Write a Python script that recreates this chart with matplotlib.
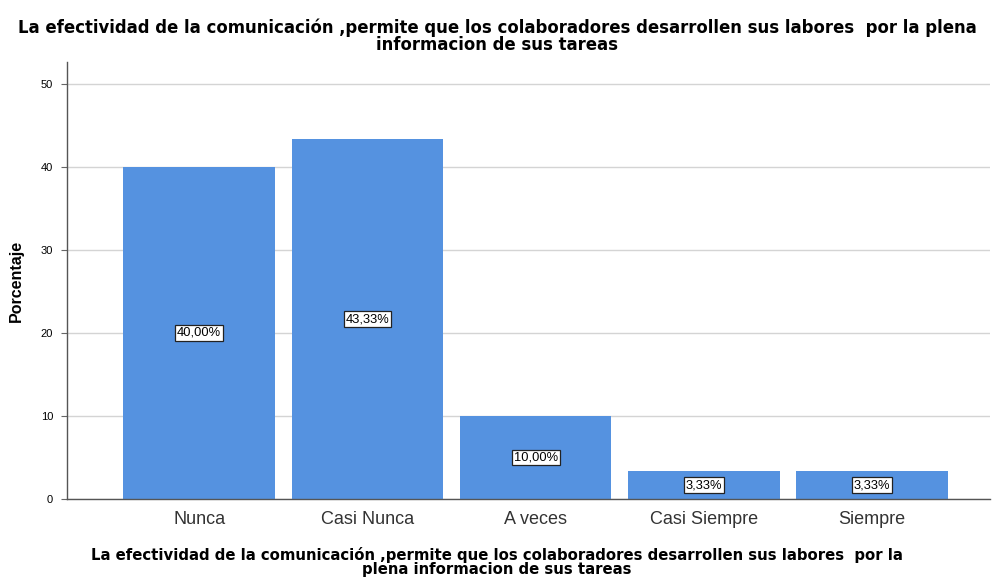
import matplotlib

matplotlib.use("Agg")
import matplotlib.pyplot as plt
import numpy as np

categories = ["Nunca", "Casi Nunca", "A veces", "Casi Siempre", "Siempre"]
percentages = [40.00, 43.33, 10.00, 3.33, 3.33]
y_ticks = [0, 10, 20, 30, 40, 50]

title_text = ("La efectividad de la comunicación ,permite que los colaboradores desarrollen sus labores  por la plena\n"
              "informacion de sus tareas")
xlabel_text = ("La efectividad de la comunicación ,permite que los colaboradores desarrollen sus labores  por la\n"
               "plena informacion de sus tareas")

fig = plt.figure(figsize=(9.94, 5.86), dpi=100)
ax = fig.add_axes([0.0674, 0.1485, 0.9286, 0.7455])

x = np.arange(len(categories))
ax.bar(x, percentages, width=0.9, color="#5592e0", zorder=2)

# value boxes sit halfway up each bar
for xi, val in zip(x, percentages):
    label = f"{val:.2f}".replace(".", ",") + "%"
    ax.text(xi, val / 2, label, ha="center", va="center", fontsize=9.3,
            family="Liberation Sans", zorder=3,
            bbox=dict(boxstyle="square,pad=0.15", facecolor="white",
                      edgecolor="#222222", linewidth=0.9))

ax.set_xlim(-0.785, 4.70)
ax.set_ylim(0, 52.6)
ax.set_yticks(y_ticks)
ax.set_xticks(x)
ax.set_xticklabels(categories, fontsize=13, family="Liberation Sans", color="#333333")
ax.tick_params(axis="x", length=0, pad=9)
ax.tick_params(axis="y", labelsize=8, length=4, color="#666666", pad=6)
for lbl in ax.get_yticklabels():
    lbl.set_family("Liberation Sans")

ax.yaxis.grid(True, color="#d4d4d4", linewidth=1.0, zorder=0)
ax.set_axisbelow(True)
for side in ("top", "right"):
    ax.spines[side].set_visible(False)
for side in ("left", "bottom"):
    ax.spines[side].set_color("#555555")
    ax.spines[side].set_linewidth(1.0)

ax.set_ylabel("Porcentaje", fontsize=11.5, fontweight="bold", family="Liberation Sans", labelpad=12)

# axis title is centred on the page, not on the axes
fig.text(0.5, 0.041, xlabel_text, ha="center", va="center", fontsize=10.7,
         fontweight="bold", family="DejaVu Sans", linespacing=0.92)
fig.text(0.5, 0.9386, title_text, ha="center", va="center", fontsize=11.9,
         fontweight="bold", family="DejaVu Sans", linespacing=0.92)

fig.savefig("out.png", dpi=100, facecolor="white")
